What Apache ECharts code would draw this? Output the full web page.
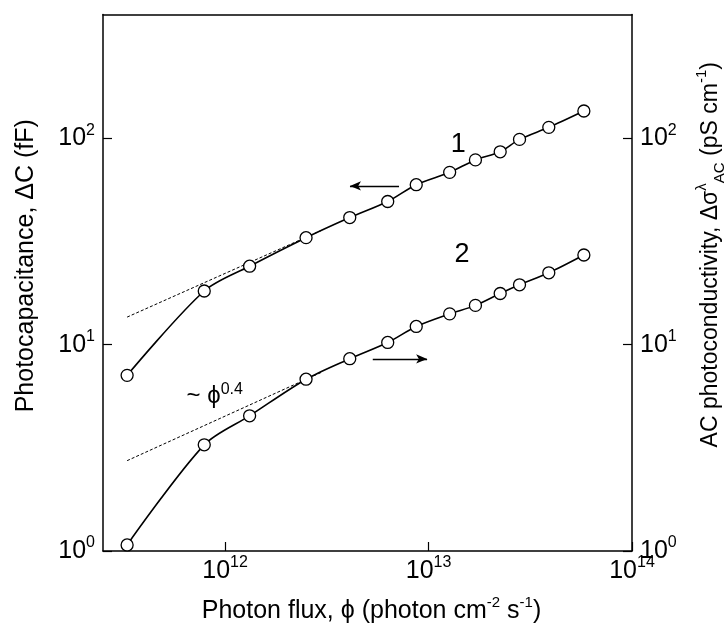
<!DOCTYPE html>
<html>
<head>
<meta charset="utf-8">
<script src="https://cdn.jsdelivr.net/npm/echarts@6/dist/echarts.min.js"></script>
<style>
  html, body { margin: 0; padding: 0; background: #fff; }
  #chart { width: 726px; height: 628px; }
</style>
</head>
<body>
<div id="chart"></div>
<script>
  // photon flux (photon cm^-2 s^-1)
  var flux = [3.3e11, 7.9e11, 1.32e12, 2.5e12, 4.1e12, 6.3e12, 8.7e12, 1.27e13, 1.7e13, 2.25e13, 2.8e13, 3.9e13, 5.8e13];
  // curve 1 - photocapacitance, fF (left axis)
  var capacitance = [7.1, 18.2, 24, 33, 41.3, 49.4, 59.6, 68.4, 78.6, 86, 98.8, 113, 135.6];
  // curve 2 - AC photoconductivity, pS/cm (right axis)
  var conductivity = [1.07, 3.27, 4.52, 6.8, 8.55, 10.25, 12.25, 14.1, 15.5, 17.7, 19.5, 22.3, 27.2];
  // dotted ~phi^0.4 guides, start and end
  var fitFlux = [3.3e11, 3.0e12];
  var fitCapacitance = [13.6, 35.9];
  var fitConductivity = [2.74, 7.37];
  // tick values
  var xTicks = [1e12, 1e13, 1e14];
  var yTicks = [1, 10, 100];
  // annotations [flux, value]
  var arrow1 = [[7.16e12, 58.8], [4.11e12, 58.8]];
  var arrow2 = [[5.32e12, 8.53], [9.84e12, 8.53]];
  var label1 = [1.40e13, 93.7];
  var label2 = [1.46e13, 27.4];
  var labelFit = [8.9e11, 5.6];

  var FONT = 'Liberation Sans, Arial, sans-serif';
  var myChart = echarts.init(document.getElementById('chart'));

  function pairs(xs, ys) {
    return xs.map(function (x, i) { return [x, ys[i]]; });
  }

  function powLabel(v) {
    var e = Math.round(Math.log10(v));
    return '{b|10}{e|' + e + '}';
  }

  function textRich(size) {
    return {
      t: { fontSize: size, fontFamily: FONT, color: '#000', lineHeight: 33 },
      s: { fontSize: 15, fontFamily: FONT, color: '#000', verticalAlign: 'top', lineHeight: 33 },
      d: { fontSize: 15, fontFamily: FONT, color: '#000', verticalAlign: 'bottom', lineHeight: 33 }
    };
  }

  var tickRich = {
    b: { fontSize: 25, fontFamily: FONT, color: '#000', lineHeight: 32 },
    e: { fontSize: 16, fontFamily: FONT, color: '#000', verticalAlign: 'top', lineHeight: 32 }
  };

  var lineAxis = { show: true, lineStyle: { color: '#000', width: 1.5 } };

  function yAxisOf(pos, name, size, shift) {
    return {
      type: 'log',
      logBase: 10,
      position: pos,
      min: 1,
      max: Math.pow(10, 2.6),
      name: name,
      nameLocation: 'middle',
      nameRotate: 90,
      nameGap: pos === 'left' ? 60 : 62,
      nameTextStyle: { rich: textRich(size), padding: [0, 0, 0, shift] },
      axisLine: lineAxis,
      axisTick: { show: true, inside: true, length: 9, customValues: yTicks, lineStyle: { color: '#000', width: 1.2 } },
      minorTick: { show: false },
      axisLabel: { show: true, margin: 8, customValues: yTicks, formatter: powLabel, rich: tickRich },
      splitLine: { show: false }
    };
  }

  myChart.setOption({
    animation: false,
    backgroundColor: '#fff',
    grid: { left: 103, right: 94, top: 14.5, bottom: 77, containLabel: false, outerBoundsMode: 'none' },
    xAxis: [{
      type: 'log',
      logBase: 10,
      min: Math.pow(10, 11.4),
      max: 1e14,
      name: '{t|Photon flux, ϕ (photon cm}{s|-2}{t| s}{s|-1}{t|)}',
      nameLocation: 'middle',
      nameGap: 44,
      nameTextStyle: { rich: textRich(25), padding: [0, 0, 0, 8] },
      axisLine: lineAxis,
      axisTick: { show: true, inside: true, length: 9, customValues: xTicks, lineStyle: { color: '#000', width: 1.2 } },
      axisLabel: { show: true, margin: 4, customValues: xTicks, formatter: powLabel, rich: tickRich },
      splitLine: { show: false }
    }, {
      type: 'log',
      logBase: 10,
      position: 'top',
      min: Math.pow(10, 11.4),
      max: 1e14,
      axisLine: lineAxis,
      axisTick: { show: false },
      axisLabel: { show: false },
      splitLine: { show: false }
    }],
    yAxis: [
      yAxisOf('left', '{t|Photocapacitance, ΔC (fF)}', 25, 34),
      yAxisOf('right', '{t|AC photoconductivity, Δσ}{s|λ}{d|AC}{t| (pS cm}{s|-1}{t|)}', 23, 56)
    ],
    series: [{
      name: 'fit1',
      type: 'line',
      data: pairs(fitFlux, fitCapacitance),
      showSymbol: false,
      lineStyle: { color: '#000', width: 1, type: [3, 2] },
      silent: true
    }, {
      name: 'fit2',
      type: 'line',
      yAxisIndex: 1,
      data: pairs(fitFlux, fitConductivity),
      showSymbol: false,
      lineStyle: { color: '#000', width: 1, type: [3, 2] },
      silent: true
    }, {
      name: '1',
      type: 'line',
      data: pairs(flux, capacitance),
      smooth: 0.3,
      symbol: 'circle',
      symbolSize: 12,
      itemStyle: { color: '#fff', borderColor: '#000', borderWidth: 1.3 },
      lineStyle: { color: '#000', width: 1.6 },
      markLine: {
        silent: true,
        symbol: ['none', 'arrow'],
        symbolSize: [7, 11],
        label: { show: false },
        lineStyle: { color: '#000', width: 1.3, type: 'solid' },
        data: [[{ coord: arrow1[0] }, { coord: arrow1[1] }]]
      },
      markPoint: {
        silent: true,
        symbol: 'circle',
        symbolSize: 0,
        data: [{
          coord: label1,
          label: { show: true, formatter: '1', fontSize: 27, fontFamily: FONT, color: '#000' }
        }, {
          coord: labelFit,
          label: {
            show: true,
            formatter: '{t|~ ϕ}{s|0.4}',
            rich: {
              t: { fontSize: 24, fontFamily: FONT, color: '#000', lineHeight: 30 },
              s: { fontSize: 16, fontFamily: FONT, color: '#000', verticalAlign: 'top', lineHeight: 30 }
            }
          }
        }]
      }
    }, {
      name: '2',
      type: 'line',
      yAxisIndex: 1,
      data: pairs(flux, conductivity),
      smooth: 0.3,
      symbol: 'circle',
      symbolSize: 12,
      itemStyle: { color: '#fff', borderColor: '#000', borderWidth: 1.3 },
      lineStyle: { color: '#000', width: 1.6 },
      markLine: {
        silent: true,
        symbol: ['none', 'arrow'],
        symbolSize: [7, 11],
        label: { show: false },
        lineStyle: { color: '#000', width: 1.3, type: 'solid' },
        data: [[{ coord: arrow2[0] }, { coord: arrow2[1] }]]
      },
      markPoint: {
        silent: true,
        symbol: 'circle',
        symbolSize: 0,
        data: [{
          coord: label2,
          label: { show: true, formatter: '2', fontSize: 27, fontFamily: FONT, color: '#000' }
        }]
      }
    }]
  });

  window.addEventListener('resize', function () {
    myChart.resize();
  });
</script>
</body>
</html>
